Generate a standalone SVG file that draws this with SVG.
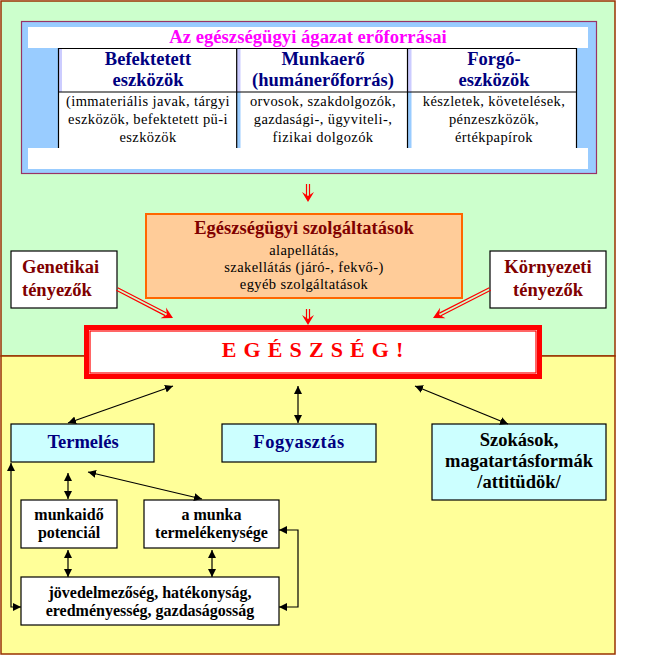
<svg xmlns="http://www.w3.org/2000/svg" width="656" height="657" viewBox="0 0 656 657">
<style>
text{font-family:"Liberation Serif","Times New Roman",serif;text-anchor:middle}
.hd{font-size:18.5px;font-weight:bold;fill:#000080}
.bd{font-size:14.5px;letter-spacing:0.4px;fill:#000}
.dr{font-size:18.5px;font-weight:bold;fill:#800000}
.bk{font-size:18.5px;font-weight:bold;fill:#000}
.sm{font-size:16px;font-weight:bold;fill:#000}
.box{fill:#fff;stroke:#000;stroke-width:1.2}
.cy{fill:#CCFFFF;stroke:#000;stroke-width:1.2}
.ln{fill:none;stroke:#000;stroke-width:1.2}
.rl{fill:none;stroke:#FF0000;stroke-width:1.2}
.rh{fill:#FF0000}
</style>
<defs>
<marker id="ah" markerWidth="9" markerHeight="8" refX="8" refY="4" orient="auto-start-reverse" markerUnits="userSpaceOnUse">
<path d="M0,0 L8,4 L0,8 Z" fill="#000"/>
</marker>
</defs>
<g id="background">
<rect x="1" y="1" width="614" height="355" fill="#CCFFCC" stroke="#993300" stroke-width="1.5"/>
<rect x="1" y="356" width="614" height="298" fill="#FFFF99" stroke="#993300" stroke-width="1.5"/>
</g>
<g id="eroforrasok">
<rect x="21.5" y="21.5" width="575" height="152" fill="#99CCFF" stroke="#993366" stroke-width="1.2"/>
<rect x="28" y="27" width="560" height="21" fill="#fff"/>
<rect x="28" y="148" width="560" height="21" fill="#fff"/>
<rect x="58" y="48" width="519" height="100" fill="#fff"/>
<rect x="59" y="48.5" width="3" height="43.5" fill="#CCCCFF"/>
<rect x="237" y="48.5" width="3.5" height="43.5" fill="#CCCCFF"/>
<rect x="237" y="92" width="3.5" height="56" fill="#99CCFF"/>
<rect x="408" y="48.5" width="3.5" height="43.5" fill="#CCCCFF"/>
<rect x="408" y="92" width="3.5" height="56" fill="#99CCFF"/>
<path class="ln" d="M58.5,148 V48.5 H576.5 V148 M58.5,92 H576.5 M236.7,48.5 V148 M407.5,48.5 V148"/>
<text x="308" y="43" style="font-size:18.7px;font-weight:bold;fill:#FF00FF">Az egészségügyi ágazat erőforrásai</text>
<text class="hd" x="148" y="65">Befektetett</text>
<text class="hd" x="148" y="86">eszközök</text>
<text class="hd" x="323" y="65">Munkaerő</text>
<text class="hd" x="323" y="86">(humánerőforrás)</text>
<text class="hd" x="494" y="65">Forgó-</text>
<text class="hd" x="494" y="86">eszközök</text>
<text class="bd" x="148" y="106">(immateriális javak, tárgyi</text>
<text class="bd" x="148" y="124">eszközök, befektetett pü-i</text>
<text class="bd" x="148" y="142">eszközök</text>
<text class="bd" x="323" y="106">orvosok, szakdolgozók,</text>
<text class="bd" x="323" y="124">gazdasági-, ügyviteli-,</text>
<text class="bd" x="323" y="142">fizikai dolgozók</text>
<text class="bd" x="494" y="106">készletek, követelések,</text>
<text class="bd" x="494" y="124">pénzeszközök,</text>
<text class="bd" x="494" y="142">értékpapírok</text>
</g>
<g id="szolgaltatasok">
<rect x="146" y="214" width="316" height="84" fill="#FFCC99" stroke="#FF6600" stroke-width="2"/>
<text class="dr" x="304" y="234">Egészségügyi szolgáltatások</text>
<text class="bd" x="304" y="255">alapellátás,</text>
<text class="bd" x="304" y="272">szakellátás (járó-, fekvő-)</text>
<text class="bd" x="304" y="289">egyéb szolgáltatások</text>
</g>
<g id="genetikai">
<rect class="box" x="11" y="251" width="106" height="57"/>
<text class="dr" x="22" y="273" style="text-anchor:start">Genetikai</text>
<text class="dr" x="22" y="296" style="text-anchor:start">tényezők</text>
</g>
<g id="kornyezeti">
<rect class="box" x="490" y="251" width="116" height="57"/>
<text class="dr" x="548" y="273">Környezeti</text>
<text class="dr" x="548" y="296">tényezők</text>
</g>
<g id="egeszseg">
<rect x="86.5" y="327.5" width="453" height="49" fill="#fff" stroke="#FF0000" stroke-width="5"/>
<rect x="90" y="331" width="446" height="42" fill="none" stroke="#FF0000" stroke-width="1.2"/>
<text x="313" y="357" style="font-size:22px;font-weight:bold;fill:#FF0000;letter-spacing:0.8px">E G É S Z S É G !</text>
</g>
<g id="termeles">
<rect class="cy" x="11" y="424" width="143" height="38"/>
<text class="hd" x="83" y="448">Termelés</text>
</g>
<g id="fogyasztas">
<rect class="cy" x="222" y="424" width="154" height="38"/>
<text class="hd" x="299" y="448" style="letter-spacing:0.5px">Fogyasztás</text>
</g>
<g id="szokasok">
<rect class="cy" x="432" y="424" width="174" height="76"/>
<text class="bk" x="519" y="446">Szokások,</text>
<text class="bk" x="519" y="467">magatartásformák</text>
<text class="bk" x="519" y="488">/attitüdök/</text>
</g>
<g id="munkaido">
<rect class="box" x="21" y="500" width="96" height="48"/>
<text class="sm" x="69" y="520">munkaidő</text>
<text class="sm" x="69" y="538">potenciál</text>
</g>
<g id="termelekenyseg">
<rect class="box" x="144" y="500" width="135" height="48"/>
<text class="sm" x="211.5" y="520">a munka</text>
<text class="sm" x="211.5" y="538">termelékenysége</text>
</g>
<g id="jovedelmezoseg">
<rect class="box" x="21" y="577" width="258" height="48"/>
<text class="sm" x="150" y="598">jövedelmezőség, hatékonyság,</text>
<text class="sm" x="150" y="616">eredményesség, gazdaságosság</text>
</g>
<g id="connectors">
<path class="rl" d="M306.5,184 V196 M309.5,184 V196"/>
<path class="rh" d="M308,202 L302,192 L308,196 L314,192 Z"/>
<path class="rl" d="M306.5,309 V319 M309.5,309 V319"/>
<path class="rh" d="M308,325 L302,315 L308,319 L314,315 Z"/>
<path class="rl" d="M116.3,290.3 L165.2,315.6 M117.7,287.7 L166.6,313"/>
<path class="rh" d="M173,318 L160.5,318.2 L166.8,314.8 L166,307.6 Z"/>
<path class="rl" d="M489.3,287.7 L439.4,313.1 M490.7,290.3 L440.8,315.7"/>
<path class="rh" d="M433,318 L440.1,307.7 L439.2,314.8 L445.5,318.3 Z"/>
<line class="ln" x1="173" y1="386" x2="68" y2="423" marker-start="url(#ah)" marker-end="url(#ah)"/>
<line class="ln" x1="298" y1="386" x2="298" y2="423" marker-start="url(#ah)" marker-end="url(#ah)"/>
<line class="ln" x1="415" y1="386" x2="508" y2="424" marker-start="url(#ah)" marker-end="url(#ah)"/>
<line class="ln" x1="68" y1="473" x2="68" y2="499" marker-start="url(#ah)" marker-end="url(#ah)"/>
<line class="ln" x1="88" y1="472" x2="202" y2="499" marker-start="url(#ah)" marker-end="url(#ah)"/>
<line class="ln" x1="68" y1="550" x2="68" y2="577" marker-start="url(#ah)" marker-end="url(#ah)"/>
<line class="ln" x1="212" y1="550" x2="212" y2="577" marker-start="url(#ah)" marker-end="url(#ah)"/>
<path class="ln" d="M11,463 V607 H21" marker-start="url(#ah)" marker-end="url(#ah)"/>
<path class="ln" d="M279,530 H298 V607 H279" marker-start="url(#ah)" marker-end="url(#ah)"/>
</g>
</svg>
